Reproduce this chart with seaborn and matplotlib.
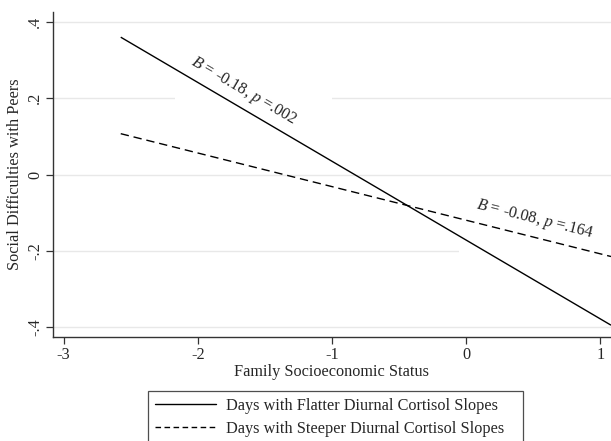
import numpy as np
import pandas as pd
import matplotlib
matplotlib.use("Agg")
import matplotlib.pyplot as plt
from matplotlib.patches import Rectangle
import seaborn as sns

# ==========================
# Data
# ==========================

ses = [-2.575, 1.08]
flatter = [0.36, -0.395]
steeper = [0.107, -0.215]

series_names = [
    "Days with Flatter Diurnal Cortisol Slopes",
    "Days with Steeper Diurnal Cortisol Slopes",
]

x_ticks = [-3, -2, -1, 0, 1]
y_ticks = [0.4, 0.2, 0, -0.2, -0.4]
y_tick_labels = [".4", ".2", "0", "-.2", "-.4"]

df = pd.DataFrame({
    "ses": ses + ses,
    "value": flatter + steeper,
    "group": [series_names[0]] * 2 + [series_names[1]] * 2,
})

# ==========================
# Style
# ==========================

sns.set_style("white")
plt.rcParams["font.family"] = ["Liberation Serif", "DejaVu Serif"]
plt.rcParams["mathtext.fontset"] = "custom"
plt.rcParams["mathtext.rm"] = "Liberation Serif"
plt.rcParams["mathtext.it"] = "Liberation Serif:italic"

FS = 11.7

fig = plt.figure(figsize=(6.11, 4.41), dpi=100)
ax = fig.add_axes([53 / 611, 1 - 337 / 441, 1 - 53 / 611, (337 - 12) / 441])

# grid
for y in y_ticks:
    ax.axhline(y, color="#e8e8e8", lw=1.0, zorder=0)

# white label boxes that break the grid (as in Stata)
ax.add_patch(Rectangle((-2.17, 0.12), 1.17, 0.19, facecolor="white",
                       edgecolor="none", zorder=0.5))
ax.add_patch(Rectangle((-0.05, -0.21), 1.2, 0.15, facecolor="white",
                       edgecolor="none", zorder=0.5))

sns.lineplot(
    data=df,
    x="ses",
    y="value",
    hue="group",
    style="group",
    palette=["black", "black"],
    dashes=[(1, 0), (6, 3.5)],
    linewidth=1.0,
    ax=ax,
    legend=False,
)

ax.set_xlim(-3.08, 1.08)
ax.set_ylim(-0.426, 0.426)

ax.set_xticks(x_ticks)
ax.set_xticklabels([str(v) for v in x_ticks])
ax.set_yticks(y_ticks)
ax.set_yticklabels(y_tick_labels, rotation=90, va="center")

ax.tick_params(axis="both", direction="out", length=5, width=0.9,
               color="#333333", labelsize=FS, pad=2, left=True, bottom=True)

for side in ["top", "right"]:
    ax.spines[side].set_visible(False)
for side in ["left", "bottom"]:
    ax.spines[side].set_color("#333333")
    ax.spines[side].set_linewidth(1.0)

ax.set_xlabel("Family Socioeconomic Status", fontsize=FS, labelpad=1)
ax.set_ylabel("Social Difficulties with Peers", fontsize=FS, labelpad=3)

# annotations
ax.text(-1.66, 0.218, r"$B$ = -0.18, $p$ =.002", rotation=-30.3,
        rotation_mode="anchor", ha="center", va="center", fontsize=FS)
ax.text(0.515, -0.118, r"$B$ = -0.08, $p$ =.164", rotation=-14.1,
        rotation_mode="anchor", ha="center", va="center", fontsize=FS)

# legend
handles = [
    plt.Line2D([], [], color="black", lw=1.0),
    plt.Line2D([], [], color="black", lw=1.0, dashes=(4, 2.5)),
]
leg = fig.legend(
    handles,
    [name + "   " for name in series_names],
    loc="upper left",
    bbox_to_anchor=(148 / 611, 1 - 391 / 441),
    borderaxespad=0,
    frameon=True,
    fancybox=False,
    fontsize=FS,
    handlelength=3.8,
    handletextpad=0.6,
    labelspacing=0.45,
    borderpad=0.4,
)
leg.get_frame().set_edgecolor("#222222")
leg.get_frame().set_linewidth(0.9)

fig.savefig("out.png", dpi=100)
